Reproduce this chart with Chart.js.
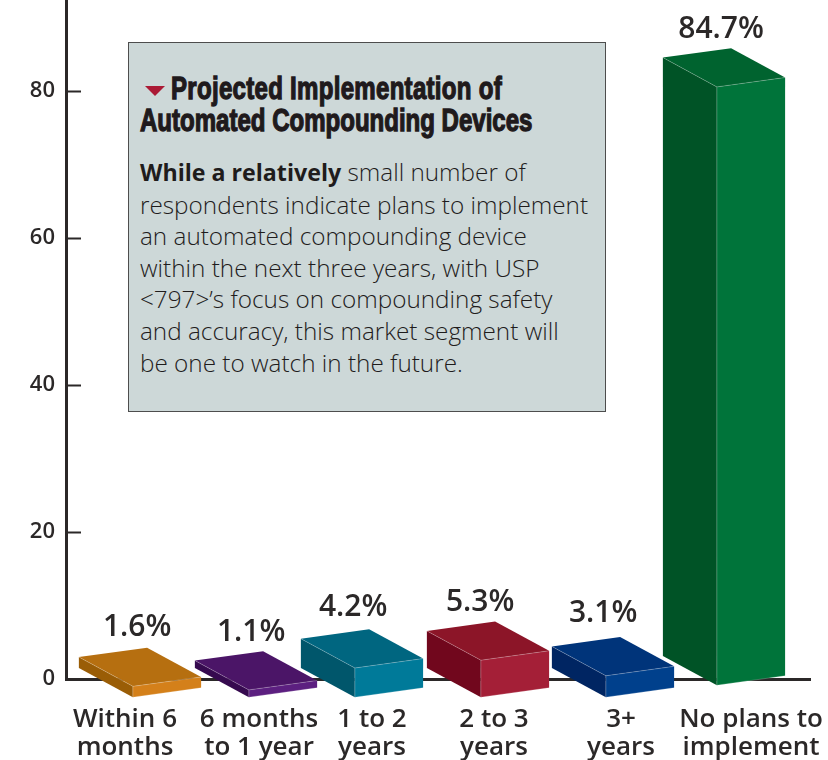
<!DOCTYPE html>
<html>
<head>
<meta charset="utf-8">
<title>Projected Implementation of Automated Compounding Devices</title>
<script src="https://cdn.jsdelivr.net/npm/chart.js@4"></script>
<style>
    html, body { margin: 0; background: #fff; }
    #wrap { position: relative; width: 828px; height: 760px; overflow: hidden; }
    #panel {
        position: absolute; left: 128px; top: 42px; width: 476px; height: 368px;
        background: #cdd8d8; border: 1px solid #4d4d4d;
        font-family: "Open Sans", sans-serif; color: #1f1c1c;
    }
    #panel h2 {
        position: absolute; left: 11px; top: 30px; margin: 0; white-space: nowrap;
        font: bold 31px/32px "Liberation Sans", sans-serif; color: #1f1a1c;
        -webkit-text-stroke: 1.3px #1f1a1c;
        transform: scaleX(0.775); transform-origin: left top;
    }
    #panel h2 span { margin-left: 40px; letter-spacing: 0.38px; }
    #marker {
        position: absolute; left: 16px; top: 43px; width: 0; height: 0;
        border-left: 10px solid transparent; border-right: 10px solid transparent;
        border-top: 10px solid #ab1a35;
    }
    #panel p {
        position: absolute; left: 11px; top: 113px; width: 460px; margin: 0;
        font-size: 24.3px; line-height: 31.6px; font-weight: 300; white-space: nowrap;
    }
    #panel p b { font-weight: 700; font-size: 23.2px; }
</style>
</head>
<body>
<div id="wrap">
    <canvas id="chart" width="828" height="760"></canvas>
    <div id="panel">
        <div id="marker"></div>
        <h2><span>Projected Implementation of</span><br>Automated Compounding Devices</h2>
        <p><b>While a relatively</b> small number of<br>respondents indicate plans to implement<br>an automated compounding device<br>within the next three years, with USP<br>&lt;797&gt;’s focus on compounding safety<br>and accuracy, this market segment will<br>be one to watch in the future.</p>
    </div>
</div>
<script>
const categories = [['Within 6', 'months'], ['6 months', 'to 1 year'], ['1 to 2', 'years'], ['2 to 3', 'years'], ['3+', 'years'], ['No plans to', 'implement']];
const values = [1.6, 1.1, 4.2, 5.3, 3.1, 84.7];
const yTickStep = 20;
const yMax = 92.4;

const frontColors = ['#d4801a', '#5c1f80', '#007a99', '#a41f37', '#00408c', '#00743a'];
const topColors = ['#b66f10', '#4b1567', '#006680', '#8c1528', '#00347a', '#00632f'];
const sideColors = ['#9a5d06', '#360a4f', '#00566b', '#71071d', '#002562', '#005326'];

// the artwork is hand placed, so each bar and label sits a little off its tick
const barShift = [39, 31, 13, 15, 16, 3];
const barDrop = [18.7, 18.7, 18.7, 18.7, 18.7, 6.7];
const labelShift = [-3, 7, -4, -6, -3, 3];
const valueShiftX = [2, 0, -4, -3, -5, 2];
const valueShiftY = [2, 3, 0, 3, -2, 3];
const depthX = 54;
const depthY = 29.3;
const slant = 9.4;
const heightScale = 0.962;
const inkColor = '#2b2828';

function face(ctx, points, fill) {
    ctx.beginPath();
    points.forEach((p, i) => i ? ctx.lineTo(p[0], p[1]) : ctx.moveTo(p[0], p[1]));
    ctx.closePath();
    ctx.fillStyle = fill;
    ctx.fill();
}

function edge(ctx, a, b) {
    ctx.beginPath();
    ctx.moveTo(a[0], a[1]);
    ctx.lineTo(b[0], b[1]);
    ctx.stroke();
}

const bars3d = {
    id: 'bars3d',
    beforeDatasetDraw(chart, args) {
        const ctx = chart.ctx;
        ctx.save();
        args.meta.data.forEach((bar, i) => {
            const w = bar.width;
            const left = bar.x - w / 2 + barShift[i];
            const right = left + w;
            const bottom = bar.base + barDrop[i];
            const h = (bar.base - bar.y) * heightScale;

            const frontTL = [left, bottom - h];
            const frontTR = [right, bottom - h - slant];
            const frontBL = [left, bottom];
            const frontBR = [right, bottom - slant];
            const backTL = [left - depthX, bottom - h - depthY];
            const backTR = [right - depthX, bottom - h - slant - depthY];
            const backBL = [left - depthX, bottom - depthY];

            face(ctx, [backTL, frontTL, frontBL, backBL], sideColors[i]);
            face(ctx, [frontTL, frontTR, frontBR, frontBL], frontColors[i]);
            face(ctx, [backTL, backTR, frontTR, frontTL], topColors[i]);

            ctx.strokeStyle = 'rgba(255,255,255,0.28)';
            ctx.lineWidth = 0.8;
            edge(ctx, backTL, frontTL);
            edge(ctx, frontTL, frontTR);
            edge(ctx, frontTL, frontBL);
            edge(ctx, frontBL, frontBR);

            ctx.fillStyle = inkColor;
            ctx.font = '600 30px "Open Sans"';
            ctx.textAlign = 'center';
            ctx.textBaseline = 'middle';
            ctx.fillText(values[i] + '%', backTR[0] - 12 + valueShiftX[i], backTR[1] - 22 + valueShiftY[i]);
        });
        ctx.restore();
        return false;
    },
    afterDraw(chart) {
        const ctx = chart.ctx;
        const x = chart.scales.x;
        ctx.save();
        ctx.fillStyle = inkColor;
        ctx.font = '600 26px "Open Sans"';
        ctx.textAlign = 'center';
        ctx.textBaseline = 'middle';
        categories.forEach((lines, i) => {
            lines.forEach((line, j) => {
                ctx.fillText(line, x.getPixelForTick(i) + labelShift[i], 720 + j * 27.5);
            });
        });
        ctx.restore();
    }
};

new Chart(document.getElementById('chart').getContext('2d'), {
    type: 'bar',
    data: {
        labels: categories,
        datasets: [{
            data: values,
            backgroundColor: frontColors,
            barPercentage: 0.55,
            categoryPercentage: 1
        }]
    },
    plugins: [bars3d],
    options: {
        responsive: false,
        animation: false,
        layout: { padding: { left: 0, right: 18, top: 0, bottom: 0 } },
        plugins: { legend: { display: false }, tooltip: { enabled: false } },
        scales: {
            x: {
                grid: { display: false },
                border: { color: inkColor, width: 3 },
                ticks: { display: false },
                afterFit(scale) {
                    scale.height = 81;
                    scale.paddingLeft = 0;
                    scale.paddingRight = 0;
                }
            },
            y: {
                min: 0,
                max: yMax,
                grid: { drawOnChartArea: false, tickLength: -15, tickWidth: 2, tickColor: inkColor },
                border: { color: inkColor, width: 3 },
                ticks: {
                    stepSize: yTickStep,
                    includeBounds: false,
                    padding: 26,
                    color: inkColor,
                    font: { family: '"Open Sans"', size: 22, weight: '600' }
                },
                afterFit(scale) {
                    scale.width = 66;
                    scale.paddingTop = 0;
                    scale.paddingBottom = 0;
                }
            }
        }
    }
});
</script>
</body>
</html>
